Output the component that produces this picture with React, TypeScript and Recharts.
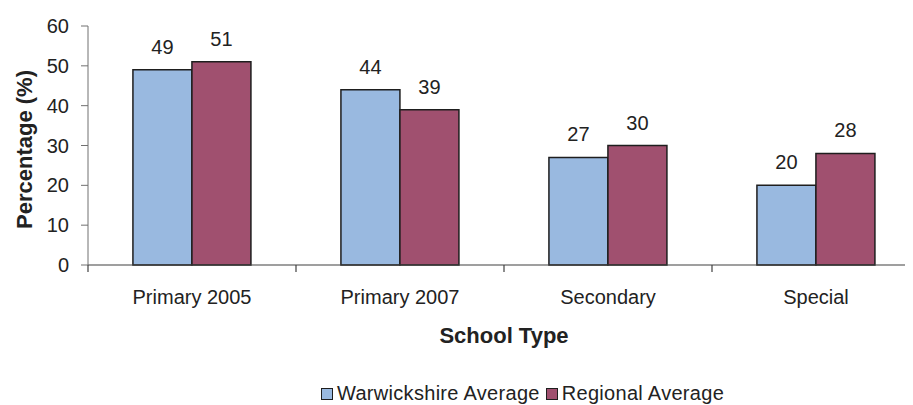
import React from 'react';
import {
  BarChart,
  Bar,
  XAxis,
  YAxis,
  Legend,
  LabelList
} from 'recharts';

// School types on the x axis
const schoolTypes = ['Primary 2005', 'Primary 2007', 'Secondary', 'Special'];
// Percentages per school type
const warwickshireAverage = [49, 44, 27, 20];
const regionalAverage = [51, 39, 30, 28];
const yTicks = [0, 10, 20, 30, 40, 50, 60];

const data = schoolTypes.map((type, i) => ({
  type,
  warwickshire: warwickshireAverage[i],
  regional: regionalAverage[i]
}));

const FONT = '"Liberation Sans", Arial, sans-serif';
const TEXT = '#222';
const BLUE = '#99B9E0';
const MAROON = '#A0506F';
const OUTLINE = '#1e1e1e';
const X_AXIS = '#404040';
const LABEL_GAP = 25;

const legendItems = [
  { name: 'Warwickshire Average', color: BLUE },
  { name: 'Regional Average', color: MAROON }
];

const ChartLegend = () => (
  <div
    style={{
      display: 'flex',
      alignItems: 'center',
      paddingLeft: 321,
      paddingTop: 8,
      fontFamily: FONT,
      fontSize: 20,
      lineHeight: '20px',
      color: TEXT
    }}
  >
    {legendItems.map((item) => (
      <div key={item.name} style={{ display: 'flex', alignItems: 'center', marginRight: 6 }}>
        <span
          style={{
            display: 'inline-block',
            width: 10,
            height: 10,
            background: item.color,
            border: `1px solid ${OUTLINE}`,
            marginRight: 4,
            marginTop: 2
          }}
        />
        <span style={{ letterSpacing: 0.3 }}>{item.name}</span>
      </div>
    ))}
  </div>
);

// category label plus tick marks on the group boundaries
const CategoryTick = ({ x, y, payload, index, visibleTicksCount }: any) => {
  const axisY = y - LABEL_GAP;
  const half = payload && payload.offset ? payload.offset : 104;
  const isLast = index === visibleTicksCount - 1;
  return (
    <g>
      <line x1={x - half} x2={x - half} y1={axisY} y2={axisY + 7} stroke={X_AXIS} strokeWidth={1.2} />
      {isLast && (
        <line x1={x + half} x2={x + half} y1={axisY} y2={axisY + 7} stroke={X_AXIS} strokeWidth={1.2} />
      )}
      <text x={x} y={y} dy="0.71em" textAnchor="middle" fontFamily={FONT} fontSize={20} fill={TEXT}>
        {payload.value}
      </text>
    </g>
  );
};

const YTitle = ({ viewBox }: any) => {
  const cx = 24;
  const cy = viewBox.y + viewBox.height / 2 + 4;
  return (
    <text
      x={cx}
      y={cy}
      transform={`rotate(-90, ${cx}, ${cy})`}
      textAnchor="middle"
      dominantBaseline="central"
      fontFamily={FONT}
      fontSize={22}
      fontWeight="bold"
      fill={TEXT}
    >
      Percentage (%)
    </text>
  );
};

const XTitle = ({ viewBox }: any) => (
  <text
    x={viewBox.x + viewBox.width / 2}
    y={viewBox.y + 78}
    textAnchor="middle"
    fontFamily={FONT}
    fontSize={22}
    fontWeight="bold"
    fill={TEXT}
  >
    School Type
  </text>
);

const App = () => (
  <div style={{ width: 913, height: 405, overflow: 'hidden', margin: '-8px 0 0 -8px' }}>
    <BarChart
      width={920}
      height={405}
      data={data}
      margin={{ top: 26, right: 0, bottom: 0, left: 0 }}
      barCategoryGap="21.6%"
      barGap={0}
    >
      <XAxis
        dataKey="type"
        height={110}
        axisLine={{ stroke: X_AXIS, strokeWidth: 1.2 }}
        tickLine={false}
        tickSize={0}
        tickMargin={LABEL_GAP}
        interval={0}
        tick={<CategoryTick />}
        label={<XTitle />}
      />
      <YAxis
        width={88}
        domain={[0, 60]}
        ticks={yTicks}
        interval={0}
        tickSize={7}
        tickMargin={12}
        axisLine={{ stroke: '#707070' }}
        tickLine={{ stroke: '#707070' }}
        tick={{ fontFamily: FONT, fontSize: 20, fill: TEXT }}
        label={<YTitle />}
      />
      <Legend verticalAlign="bottom" height={30} content={<ChartLegend />} wrapperStyle={{ left: 0, width: 920 }} />
      <Bar
        dataKey="warwickshire"
        name="Warwickshire Average"
        fill={BLUE}
        stroke={OUTLINE}
        strokeWidth={1.5}
        isAnimationActive={false}
      >
        <LabelList dataKey="warwickshire" position="top" offset={16} fontFamily={FONT} fontSize={20} fill={TEXT} />
      </Bar>
      <Bar
        dataKey="regional"
        name="Regional Average"
        fill={MAROON}
        stroke={OUTLINE}
        strokeWidth={1.5}
        isAnimationActive={false}
      >
        <LabelList dataKey="regional" position="top" offset={16} fontFamily={FONT} fontSize={20} fill={TEXT} />
      </Bar>
    </BarChart>
  </div>
);

export default App;
